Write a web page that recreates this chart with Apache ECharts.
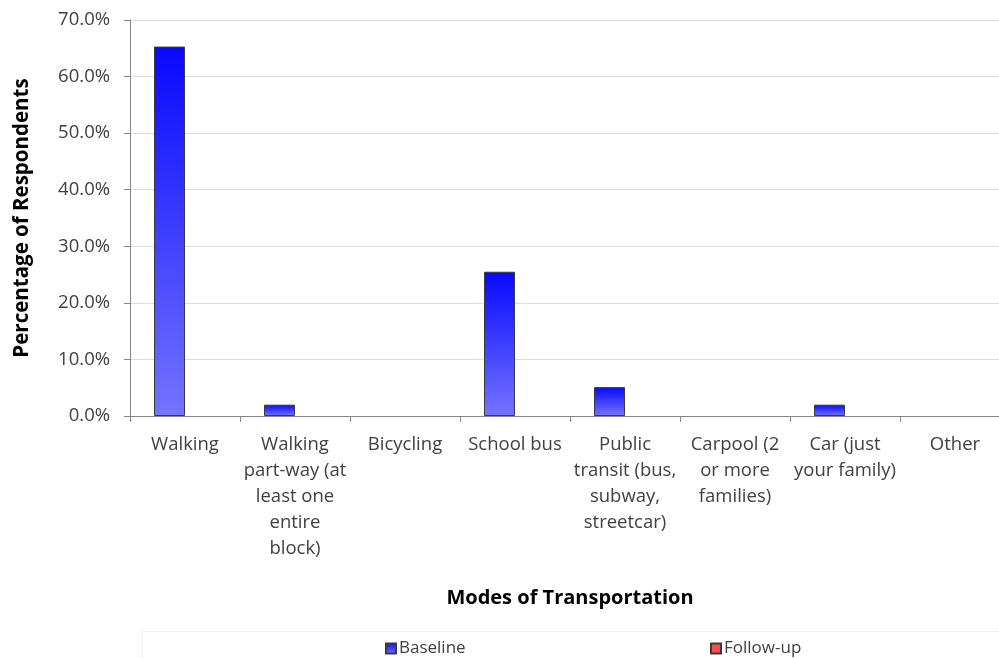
<!DOCTYPE html>
<html>
<head>
<meta charset="utf-8">
<script src="https://cdn.jsdelivr.net/npm/echarts@6/dist/echarts.min.js"></script>
<style>
html,body{margin:0;padding:0;background:#fff;}
#chart{width:999px;height:658px;}
</style>
</head>
<body>
<div id="chart"></div>
<script>
const categories = [
  'Walking',
  'Walking\npart-way (at\nleast one\nentire\nblock)',
  'Bicycling',
  'School bus',
  'Public\ntransit (bus,\nsubway,\nstreetcar)',
  'Carpool (2\nor more\nfamilies)',
  'Car (just\nyour family)',
  'Other'
];
const baseline = [65.3, 2.0, 0, 25.5, 5.1, 0, 2.0, 0];
const followUp = [null, null, null, null, null, null, null, null];
const yTicks = { min: 0, max: 70, interval: 10 };

// zero-height bars are not outlined in the reference
const toBarData = arr => arr.map(v => (v === 0 ? { value: 0, itemStyle: { borderWidth: 0 } } : v));

const FONT = '"Open Sans", sans-serif';
const chart = echarts.init(document.getElementById('chart'), null, { renderer: 'canvas' });
chart.setOption({
  backgroundColor: '#ffffff',
  animation: false,
  textStyle: { fontFamily: FONT },
  grid: { left: 130, right: -11, top: 20, bottom: 242, containLabel: false, outerBoundsMode: 'none' },
  graphic: [{
    type: 'rect', left: 140, top: 629, silent: true,
    shape: { width: 880, height: 40 },
    style: { fill: 'none', stroke: '#f2f2f2', lineWidth: 1 }
  }],
  legend: [
    {
      data: ['Baseline'], left: 380, top: 635, icon: 'rect',
      itemWidth: 10, itemHeight: 10, itemGap: 6,
      textStyle: { fontFamily: FONT, fontSize: 17, color: '#404040', padding: [0, 0, 0, -2] }
    },
    {
      data: ['Follow-up'], left: 705, top: 635, icon: 'rect',
      itemWidth: 10, itemHeight: 10, itemGap: 6,
      textStyle: { fontFamily: FONT, fontSize: 17, color: '#404040', padding: [0, 0, 0, -2] }
    }
  ],
  xAxis: {
    type: 'category',
    data: categories,
    name: 'Modes of Transportation',
    nameLocation: 'middle',
    nameGap: 172,
    nameTextStyle: { fontFamily: FONT, fontSize: 20, fontWeight: 'bold', color: '#000' },
    axisLine: { lineStyle: { color: '#868686', width: 1 } },
    axisTick: { show: true, length: 6, lineStyle: { color: '#868686' } },
    axisLabel: {
      interval: 0, margin: 16, lineHeight: 26,
      fontFamily: FONT, fontSize: 18.5, color: '#404040', align: 'center'
    },
    splitLine: { show: false }
  },
  yAxis: {
    type: 'value',
    min: yTicks.min, max: yTicks.max, interval: yTicks.interval,
    name: 'Percentage of Respondents',
    nameLocation: 'middle',
    nameGap: 97,
    nameTextStyle: { fontFamily: FONT, fontSize: 20.5, fontWeight: 'bold', color: '#000' },
    axisLine: { show: true, lineStyle: { color: '#868686', width: 1 } },
    axisTick: { show: true, length: 6, lineStyle: { color: '#868686' } },
    axisLabel: {
      margin: 20, fontFamily: FONT, fontSize: 18.5, color: '#404040',
      formatter: v => v.toFixed(1) + '%'
    },
    splitLine: { show: true, lineStyle: { color: '#dcdcdc', width: 1 } }
  },
  series: [
    {
      name: 'Baseline',
      type: 'bar',
      data: toBarData(baseline),
      barWidth: 31,
      barGap: '0%',
      itemStyle: {
        color: new echarts.graphic.LinearGradient(0, 0, 0, 1, [
          { offset: 0, color: '#0808ff' },
          { offset: 1, color: '#7474ff' }
        ]),
        borderColor: '#3a3a3a',
        borderWidth: 1
      }
    },
    {
      name: 'Follow-up',
      type: 'bar',
      data: followUp,
      barWidth: 31,
      barGap: '0%',
      itemStyle: { color: '#ff4c4c', borderColor: '#3a3a3a', borderWidth: 1 }
    }
  ]
});
</script>
</body>
</html>
